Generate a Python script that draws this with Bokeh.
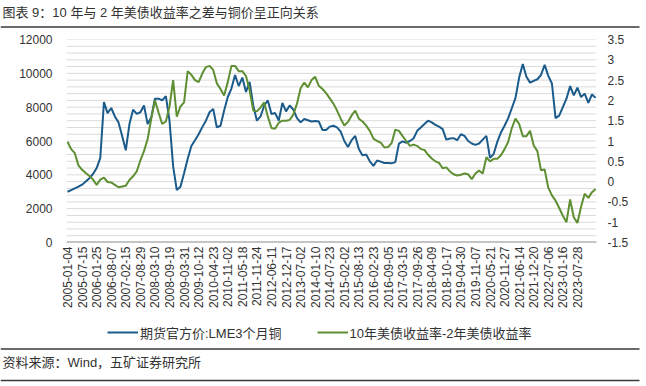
import math
from bokeh.plotting import figure
from bokeh.models import (Range1d, LinearAxis, FixedTicker, Legend, LegendItem,
                          ColumnDataSource)
from bokeh.layouts import column
from bokeh.core.properties import value
from bokeh.embed import file_html
from bokeh.resources import INLINE

TITLE = "图表 9：10 年与 2 年美债收益率之差与铜价呈正向关系"
SOURCE = "资料来源：Wind，五矿证券研究所"
SERIES_NAMES = ["期货官方价:LME3个月铜", "10年美债收益率-2年美债收益率"]

tick_dates = [
    "2005-01-04", "2005-07-15", "2006-01-25", "2006-08-07", "2007-02-15", "2007-08-29",
    "2008-03-10", "2008-09-19", "2009-03-31", "2009-10-12", "2010-04-23", "2010-11-02",
    "2011-05-18", "2011-11-24", "2012-06-11", "2012-12-17", "2013-07-02", "2014-01-10",
    "2014-07-23", "2015-02-02", "2015-08-13", "2016-02-23", "2016-09-05", "2017-03-15",
    "2017-09-26", "2018-04-09", "2018-10-17", "2019-04-30", "2019-11-07", "2020-05-21",
    "2020-11-27", "2021-06-14", "2021-12-20", "2022-07-06", "2023-01-16", "2023-07-28",
]

# LME 3-month copper (left axis), sampled every quarter of a tick-label interval
copper = [
    3000, 3100, 3200, 3300, 3420, 3600, 3800, 4050, 4400, 5000,
    8300, 7650, 7950, 7450, 7100, 6300, 5450, 7000, 7850, 7600,
    7700, 8100, 7000, 7400, 8500, 8500, 8400, 8650, 7200, 4500,
    3100, 3300, 4100, 4950, 5700, 6050, 6400, 6820, 7200, 7700,
    7900, 6800, 6900, 7800, 8600, 9100, 9900, 9250, 9750, 8900,
    9500, 8100, 7200, 7450, 8100, 8400, 7600, 7650, 7210, 8250,
    7750, 8100, 7850, 7350, 7100, 7300, 7230, 7150, 7180, 7150,
    6650, 6650, 6850, 6900, 6800, 6550, 6000, 5650, 6050, 6300,
    5520, 5150, 5200, 4800, 4530, 4850, 4780, 4700, 4700, 4680,
    4750, 5850, 5980, 5900, 6000, 6150, 6600, 6800, 7000, 7200,
    7100, 6950, 6850, 6700, 6080, 6150, 6170, 6050, 6400, 6300,
    6000, 5850, 5770, 5850, 6080, 6300, 5000, 5230, 5950, 6500,
    6900, 7350, 7950, 8550, 9750, 10550, 9800, 9450, 9550, 9650,
    9900, 10500, 9850, 9400, 7350, 7500, 8000, 8500, 9250, 8700,
    9150, 8600, 8800, 8250, 8750, 8550,
]

# 10Y - 2Y US Treasury yield spread (right axis)
spread = [
    0.98, 0.80, 0.70, 0.40, 0.29, 0.21, 0.14, 0.05, -0.08, 0.05,
    0.10, -0.01, -0.02, -0.08, -0.14, -0.12, -0.10, 0.04, 0.13, 0.25,
    0.52, 0.75, 1.05, 1.55, 2.00, 1.70, 1.42, 1.48, 1.85, 2.50,
    1.60, 1.85, 1.95, 2.72, 2.63, 2.50, 2.45, 2.66, 2.82, 2.85,
    2.75, 2.42, 2.28, 2.12, 2.45, 2.85, 2.85, 2.72, 2.72, 2.60,
    2.25, 1.75, 1.73, 1.83, 1.95, 1.60, 1.32, 1.30, 1.45, 1.50,
    1.50, 1.52, 1.65, 1.92, 2.30, 2.44, 2.32, 2.50, 2.58, 2.36,
    2.28, 2.18, 2.05, 1.92, 1.75, 1.55, 1.38, 1.47, 1.63, 1.75,
    1.55, 1.48, 1.38, 1.25, 1.06, 1.00, 0.96, 0.84, 0.85, 0.95,
    1.28, 1.25, 1.12, 1.00, 0.88, 0.91, 0.88, 0.80, 0.78, 0.66,
    0.57, 0.50, 0.46, 0.33, 0.35, 0.25, 0.18, 0.15, 0.17, 0.20,
    0.18, 0.06, 0.20, 0.27, 0.20, 0.60, 0.50, 0.56, 0.56, 0.65,
    0.80, 0.98, 1.32, 1.55, 1.42, 1.12, 1.12, 1.25, 0.89, 0.75,
    0.28, 0.30, -0.15, -0.34, -0.47, -0.65, -0.84, -1.00, -0.44, -0.88,
    -1.02, -0.62, -0.30, -0.40, -0.26, -0.18,
]

left_ticks = [0, 2000, 4000, 6000, 8000, 10000, 12000]
grid_ticks = list(range(400, 12001, 400))
right_ticks = [-1.5, -1, -0.5, 0, 0.5, 1, 1.5, 2, 2.5, 3, 3.5]
right_labels = ["-1.5", "-1", "-0.5", "0", "0.5", "1", "1.5", "2", "2.5", "3", "3.5"]
period_step = 0.25

FONT = "Liberation Sans, Noto Sans CJK SC"
TXT = "#333333"
RULE = "#3a3a3a"
GRID = "#dadada"
BASE = "#c4c4c4"
BLUE = "#1b5b8c"
GREEN = "#5e8f33"
W = 646

idx = [i * period_step for i in range(len(copper))]
src = ColumnDataSource(dict(x=idx, copper=copper, spread=spread))


def blank(height, y0, y1):
    f = figure(width=W, height=height, x_range=Range1d(0, W), y_range=Range1d(y1, y0),
               x_axis_type=None, y_axis_type=None, toolbar_location=None,
               output_backend="svg", min_border=0, outline_line_color=None, title=None)
    f.frame_align = False
    return f


# ---------- header (page y 0..30) ----------
hdr = blank(30, 0, 30)
hdr.text(x=[2], y=[11.5], text=[TITLE], text_font=value(FONT), text_font_size="13px",
         text_baseline="middle", text_color=TXT)
hdr.segment(x0=[0], y0=[26.5], x1=[639], y1=[26.5], line_color=RULE, line_width=1.5)

# ---------- main chart (page y 30..316) ----------
xr = Range1d(-0.07, 36.31)
yr = Range1d(0, 12000)
p = figure(width=W, height=286, x_range=xr, y_range=yr,
           toolbar_location=None, output_backend="svg", title=None,
           min_border_left=66, min_border_right=50, min_border_top=9, min_border_bottom=74,
           outline_line_color=None)
p.frame_align = False
p.extra_y_ranges = {"r": Range1d(-1.5, 3.5)}

p.xgrid.visible = False
p.ygrid.visible = False
# horizontal gridlines every 400 on the left scale, drawn as glyphs
p.segment(x0=xr.start, x1=xr.end, y0=grid_ticks, y1=grid_ticks,
          line_color=GRID, line_width=1, level="underlay")
# base line at zero
p.segment(x0=xr.start, x1=xr.end, y0=[0], y1=[0], line_color=BASE, line_width=3,
          level="underlay")

r1 = p.line("x", "copper", source=src, line_color=BLUE, line_width=2)
r2 = p.line("x", "spread", source=src, y_range_name="r", line_color=GREEN, line_width=2)

xa = p.xaxis[0]
xa.ticker = FixedTicker(ticks=list(range(len(tick_dates))))
xa.major_label_overrides = {i: d for i, d in enumerate(tick_dates)}
xa.major_label_orientation = math.pi / 2
xa.major_tick_line_color = None
xa.minor_tick_line_color = None
xa.major_tick_out = 0
xa.major_tick_in = 0
xa.major_label_standoff = 4
xa.axis_line_color = BASE
xa.axis_line_width = 1
xa.major_label_text_font = FONT
xa.major_label_text_font_size = "12px"
xa.major_label_text_color = TXT

ya = p.yaxis[0]
ya.ticker = FixedTicker(ticks=left_ticks)
ya.axis_line_color = None
ya.major_tick_line_color = None
ya.minor_tick_line_color = None
ya.major_tick_out = 0
ya.major_tick_in = 0
ya.major_label_standoff = 14
ya.major_label_text_font = FONT
ya.major_label_text_font_size = "12px"
ya.major_label_text_color = TXT

ra = LinearAxis(y_range_name="r", ticker=FixedTicker(ticks=right_ticks),
                major_label_overrides={t: l for t, l in zip(right_ticks, right_labels)},
                axis_line_color=None, major_tick_line_color=None, minor_tick_line_color=None,
                major_tick_out=0, major_tick_in=0, major_label_standoff=11,
                major_label_text_font=FONT, major_label_text_font_size="12px",
                major_label_text_color=TXT)
p.add_layout(ra, "right")

# ---------- footer (page y 316..386): legend, rules, source ----------
ftr = blank(70, 316, 386)
nan = float("nan")
k1 = ftr.line(x=[nan, nan], y=[nan, nan], line_color=BLUE, line_width=2)
k2 = ftr.line(x=[nan, nan], y=[nan, nan], line_color=GREEN, line_width=2)
leg = Legend(items=[LegendItem(label=SERIES_NAMES[0], renderers=[k1]),
                    LegendItem(label=SERIES_NAMES[1], renderers=[k2])],
             orientation="horizontal", location=(107, 44.5), padding=0, margin=0,
             spacing=35, glyph_width=31, glyph_height=16, label_height=16, label_standoff=2,
             label_text_font=FONT, label_text_font_size="13px", label_text_color=TXT,
             border_line_color=None, background_fill_alpha=0)
ftr.add_layout(leg, "center")
ftr.segment(x0=[0], y0=[348.5], x1=[639], y1=[348.5], line_color=RULE, line_width=1.5)
ftr.text(x=[2], y=[362], text=[SOURCE], text_font=value(FONT), text_font_size="13px",
         text_baseline="middle", text_color=TXT)
ftr.segment(x0=[0], y0=[380], x1=[639], y1=[380], line_color=RULE, line_width=1.5)

layout = column(hdr, p, ftr, spacing=0)
open("out.html", "w").write(file_html(layout, INLINE))
